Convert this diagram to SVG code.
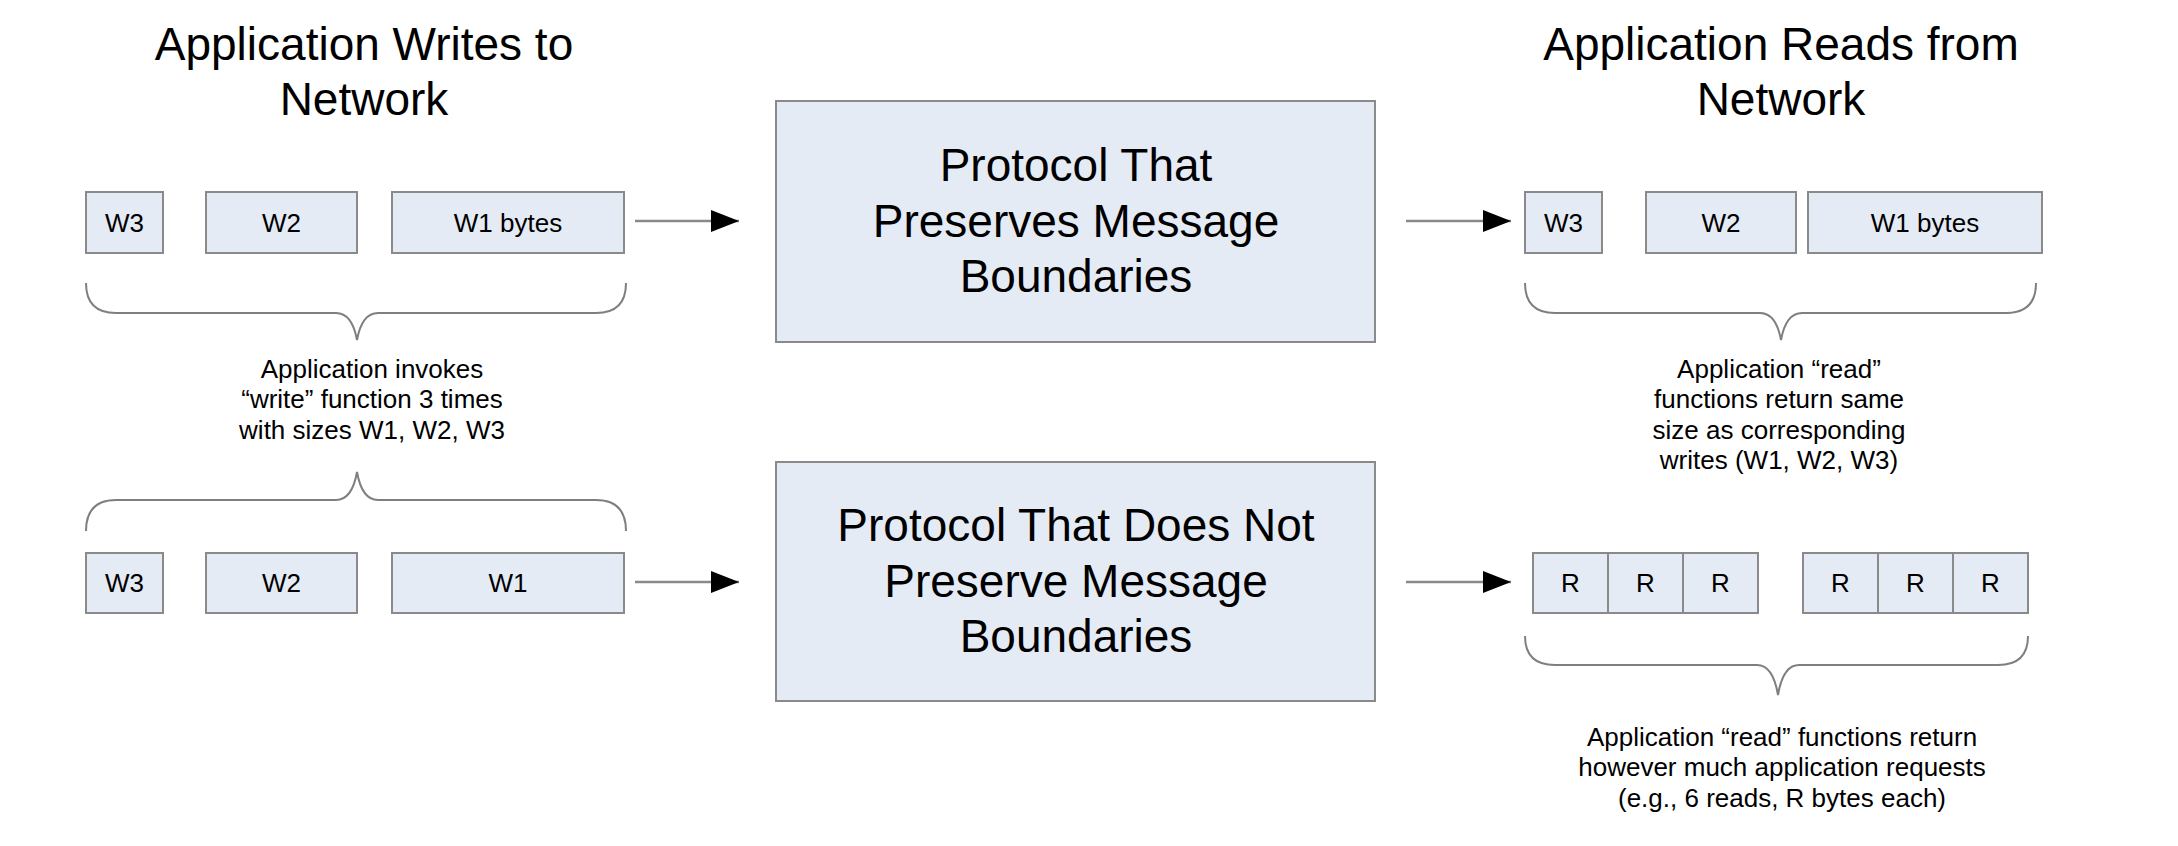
<svg xmlns="http://www.w3.org/2000/svg" width="2178" height="846" viewBox="0 0 2178 846">
<style>
.box{fill:#e5ebf5;stroke:#8a8a8a;stroke-width:2}
.big{font-family:"Liberation Sans",Arial,sans-serif;font-size:46px;fill:#000;text-anchor:middle}
.lbl{font-family:"Liberation Sans",Arial,sans-serif;font-size:26px;fill:#000;text-anchor:middle}
.brace{fill:none;stroke:#7f7f7f;stroke-width:2}
.conn{stroke:#8a8a8a;stroke-width:2.5;fill:none}
</style>
<defs>
<marker id="ah" viewBox="0 0 12 10" refX="12" refY="5" markerWidth="12" markerHeight="10" markerUnits="userSpaceOnUse" orient="auto">
<path d="M0,0 L12,5 L0,10 Z" fill="#000"/>
</marker>
<marker id="ahb" viewBox="0 0 28 22" refX="28" refY="11" markerWidth="28" markerHeight="22" markerUnits="userSpaceOnUse" orient="auto">
<path d="M0,0 L28,11 L0,22 Z" fill="#000"/>
</marker>
</defs>
<rect width="2178" height="846" fill="#fff"/>

<g id="title-left">
<text class="big" x="364" y="60">Application Writes to</text>
<text class="big" x="364" y="115">Network</text>
</g>
<g id="title-right">
<text class="big" x="1781" y="60">Application Reads from</text>
<text class="big" x="1781" y="115">Network</text>
</g>

<g id="w-top">
<rect class="box" x="86" y="192" width="77" height="61"/><text class="lbl" x="124.5" y="232">W3</text>
<rect class="box" x="206" y="192" width="151" height="61"/><text class="lbl" x="281.5" y="232">W2</text>
<rect class="box" x="392" y="192" width="232" height="61"/><text class="lbl" x="508" y="232">W1 bytes</text>
</g>

<g id="w-bottom">
<rect class="box" x="86" y="553" width="77" height="60"/><text class="lbl" x="124.5" y="592">W3</text>
<rect class="box" x="206" y="553" width="151" height="60"/><text class="lbl" x="281.5" y="592">W2</text>
<rect class="box" x="392" y="553" width="232" height="60"/><text class="lbl" x="508" y="592">W1</text>
</g>

<g id="proto-preserve">
<rect class="box" x="776" y="101" width="599" height="241"/>
<text class="big" x="1076" y="181">Protocol That</text>
<text class="big" x="1076" y="237">Preserves Message</text>
<text class="big" x="1076" y="292">Boundaries</text>
</g>

<g id="proto-nopreserve">
<rect class="box" x="776" y="462" width="599" height="239"/>
<text class="big" x="1076" y="541">Protocol That Does Not</text>
<text class="big" x="1076" y="597">Preserve Message</text>
<text class="big" x="1076" y="652">Boundaries</text>
</g>

<g id="r-top">
<rect class="box" x="1525" y="192" width="77" height="61"/><text class="lbl" x="1563.5" y="232">W3</text>
<rect class="box" x="1646" y="192" width="150" height="61"/><text class="lbl" x="1721" y="232">W2</text>
<rect class="box" x="1808" y="192" width="234" height="61"/><text class="lbl" x="1925" y="232">W1 bytes</text>
</g>

<g id="r-bottom">
<rect class="box" x="1533" y="553" width="75" height="60"/><text class="lbl" x="1570.5" y="592">R</text>
<rect class="box" x="1608" y="553" width="75" height="60"/><text class="lbl" x="1645.5" y="592">R</text>
<rect class="box" x="1683" y="553" width="75" height="60"/><text class="lbl" x="1720.5" y="592">R</text>
<rect class="box" x="1803" y="553" width="75" height="60"/><text class="lbl" x="1840.5" y="592">R</text>
<rect class="box" x="1878" y="553" width="75" height="60"/><text class="lbl" x="1915.5" y="592">R</text>
<rect class="box" x="1953" y="553" width="75" height="60"/><text class="lbl" x="1990.5" y="592">R</text>
</g>

<g id="braces">
<path class="brace" d="M86,283 Q86,313 116,313 L336,313 Q352,313 357,340 Q362,313 378,313 L596,313 Q626,313 626,283"/>
<path class="brace" d="M86,531 Q86,500 116,500 L336,500 Q352,500 357,472 Q362,500 378,500 L596,500 Q626,500 626,531"/>
<path class="brace" d="M1525,283 Q1525,313 1555,313 L1760,313 Q1776,313 1781,340 Q1786,313 1802,313 L2006,313 Q2036,313 2036,283"/>
<path class="brace" d="M1525,636 Q1525,665 1555,665 L1757,665 Q1773,665 1778,695 Q1783,665 1799,665 L1998,665 Q2028,665 2028,636"/>
</g>

<g id="notes">
<text class="lbl" x="372" y="378">Application invokes</text>
<text class="lbl" x="372" y="408">“write” function 3 times</text>
<text class="lbl" x="372" y="439">with sizes W1, W2, W3</text>
<text class="lbl" x="1779" y="378">Application “read”</text>
<text class="lbl" x="1779" y="408">functions return same</text>
<text class="lbl" x="1779" y="439">size as corresponding</text>
<text class="lbl" x="1779" y="469">writes (W1, W2, W3)</text>
<text class="lbl" x="1782" y="746">Application “read” functions return</text>
<text class="lbl" x="1782" y="776">however much application requests</text>
<text class="lbl" x="1782" y="807">(e.g., 6 reads, R bytes each)</text>
</g>

<g id="connectors">
<line class="conn" x1="635" y1="221" x2="739" y2="221" marker-end="url(#ahb)"/>
<line class="conn" x1="635" y1="582" x2="739" y2="582" marker-end="url(#ahb)"/>
<line class="conn" x1="1406" y1="221" x2="1511" y2="221" marker-end="url(#ahb)"/>
<line class="conn" x1="1406" y1="582" x2="1511" y2="582" marker-end="url(#ahb)"/>
</g>
</svg>
